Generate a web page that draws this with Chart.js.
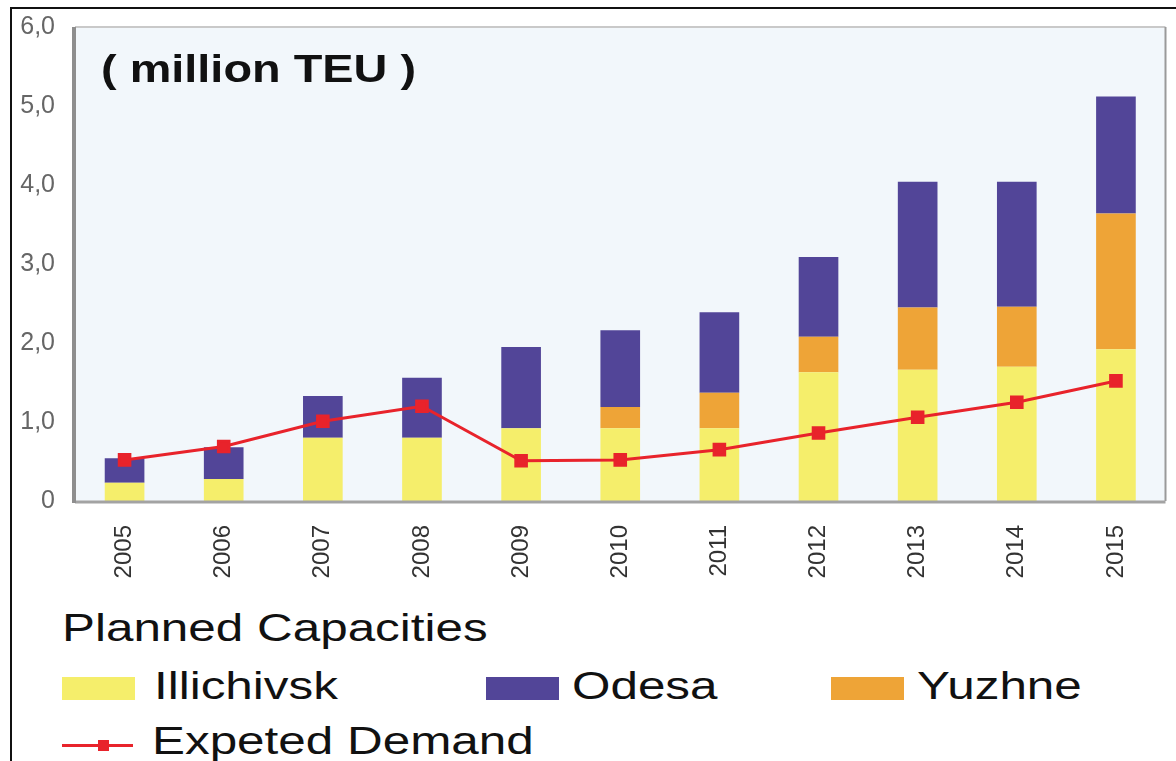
<!DOCTYPE html>
<html>
<head>
<meta charset="utf-8">
<script src="https://cdn.jsdelivr.net/npm/chart.js@4.4.1/dist/chart.umd.min.js"></script>
<style>
  body { margin: 0; background: #fff; font-family: "Liberation Sans", Arial, sans-serif; }
  #page { position: relative; width: 1176px; height: 761px; overflow: hidden; }
  #frame { position: absolute; left: 10px; top: 7px; width: 1200px; height: 800px; border-left: 2px solid #111; border-top: 2px solid #111; }
  #box { position: absolute; left: 0; top: 0; width: 1176px; height: 600px; }
  .txt { position: absolute; font-size: 38px; line-height: 38px; color: #111; white-space: nowrap; transform: scaleX(1.3); transform-origin: 0 0; }
  .sw { position: absolute; width: 73px; height: 23px; }
  .ln { position: absolute; width: 71px; height: 3px; background: #e8232b; }
  .ln i { position: absolute; left: 36px; top: -4px; width: 11px; height: 11px; background: #e8232b; }
</style>
</head>
<body>
<div id="page">
  <div id="frame"></div>
  <div id="box"><canvas id="chart1"></canvas></div>
  <div id="legend"></div>
</div>
<script>
const years = ["2005", "2006", "2007", "2008", "2009", "2010", "2011", "2012", "2013", "2014", "2015"];
const illichivsk = [0.23, 0.28, 0.80, 0.80, 0.92, 0.92, 0.92, 1.63, 1.66, 1.70, 1.92];
const yuzhne = [0, 0, 0, 0, 0, 0.27, 0.45, 0.45, 0.79, 0.76, 1.72];
const odesa = [0.31, 0.40, 0.53, 0.76, 1.03, 0.97, 1.02, 1.01, 1.59, 1.58, 1.48];
const demand = [0.52, 0.69, 1.01, 1.20, 0.51, 0.52, 0.65, 0.86, 1.06, 1.25, 1.52];

const yellow = "#f5ee6b";
const purple = "#524598";
const orange = "#eea437";
const red = "#e8232b";

// background, frame and unit caption inside the plot area
const plotFrame = {
  id: "plotFrame",
  beforeDraw(chart) {
    const { ctx, chartArea: a } = chart;
    ctx.save();
    ctx.fillStyle = "#f2f7fb";
    ctx.fillRect(a.left, a.top, a.right - a.left, a.bottom - a.top);
    ctx.font = "bold 39px 'Liberation Sans', Arial, sans-serif";
    ctx.fillStyle = "#111";
    ctx.textBaseline = "alphabetic";
    const t = "( million TEU )";
    const w = ctx.measureText(t).width;
    ctx.translate(a.left + 26, a.top + 55);
    ctx.scale(315 / w, 1);
    ctx.fillText(t, 0, 0);
    ctx.restore();
  },
  afterDraw(chart) {
    const { ctx, chartArea: a } = chart;
    ctx.save();
    ctx.lineWidth = 2;
    ctx.strokeStyle = "#c9c9c9";
    ctx.beginPath();
    ctx.moveTo(a.left, a.top);
    ctx.lineTo(a.right, a.top);
    ctx.stroke();
    ctx.strokeStyle = "#9a9a9a";
    ctx.beginPath();
    ctx.moveTo(a.right, a.top);
    ctx.lineTo(a.right, a.bottom);
    ctx.stroke();
    ctx.lineWidth = 3;
    ctx.strokeStyle = "#a3a3a3";
    ctx.beginPath();
    ctx.moveTo(a.left, a.bottom + 1);
    ctx.lineTo(a.right, a.bottom + 1);
    ctx.stroke();
    ctx.lineWidth = 4;
    ctx.strokeStyle = "#8e8e8e";
    ctx.beginPath();
    ctx.moveTo(a.left - 1, a.top);
    ctx.lineTo(a.left - 1, a.bottom + 2);
    ctx.stroke();
    ctx.restore();
  },
};

const chart1 = document.getElementById("chart1").getContext("2d");

const capChart = new Chart(chart1, {
  type: "bar",
  data: {
    labels: years,
    datasets: [
      { label: "Illichivsk", data: illichivsk, backgroundColor: yellow, stack: "cap" },
      { label: "Yuzhne", data: yuzhne, backgroundColor: orange, stack: "cap" },
      { label: "Odesa", data: odesa, backgroundColor: purple, stack: "cap" },
      {
        type: "line",
        label: "Expeted Demand",
        data: demand,
        stack: "demand",
        order: -1,
        borderColor: red,
        borderWidth: 3,
        pointStyle: "rect",
        pointRadius: 7.5,
        pointBackgroundColor: red,
        pointBorderColor: red,
        tension: 0,
      },
    ],
  },
  options: {
    responsive: true,
    maintainAspectRatio: false,
    animation: false,
    layout: { padding: { top: 26, right: 4, left: 0, bottom: 0 } },
    datasets: { bar: { barPercentage: 0.4, categoryPercentage: 1 } },
    plugins: { legend: { display: false }, tooltip: { enabled: false } },
    scales: {
      x: {
        stacked: true,
        grid: { display: false },
        border: { display: false },
        afterFit(s) { s.height = 99; },
        ticks: {
          minRotation: 90,
          maxRotation: 90,
          padding: 16,
          color: "#333",
          font: { family: "'Liberation Sans', Arial, sans-serif", size: 24 },
        },
      },
      y: {
        stacked: true,
        min: 0,
        max: 6,
        grid: { display: false },
        border: { display: false },
        afterFit(s) { s.width = 75; },
        ticks: {
          stepSize: 1,
          padding: 12,
          color: "#666",
          font: { family: "'Liberation Sans', Arial, sans-serif", size: 25 },
          callback: (v) => (v === 0 ? "0" : v.toFixed(1).replace(".", ",")),
        },
      },
    },
  },
  plugins: [plotFrame],
});

// legend below the chart
const legend = document.getElementById("legend");
function addText(text, x, y) {
  const d = document.createElement("div");
  d.className = "txt";
  d.textContent = text;
  d.style.left = x + "px";
  d.style.top = y + "px";
  legend.appendChild(d);
}
addText("Planned Capacities", 62, 609);
const legendItems = [
  { label: "Illichivsk", color: yellow, x: 62 },
  { label: "Odesa", color: purple, x: 486 },
  { label: "Yuzhne", color: orange, x: 831 },
];
legendItems.forEach((it) => {
  const sw = document.createElement("div");
  sw.className = "sw";
  sw.style.left = it.x + "px";
  sw.style.top = "677px";
  sw.style.background = it.color;
  legend.appendChild(sw);
  addText(it.label, it.x + (it.x === 62 ? 92 : 86), 667);
});
const ln = document.createElement("div");
ln.className = "ln";
ln.style.left = "62px";
ln.style.top = "744px";
ln.appendChild(document.createElement("i"));
legend.appendChild(ln);
addText("Expeted Demand", 152, 722);
</script>
</body>
</html>
